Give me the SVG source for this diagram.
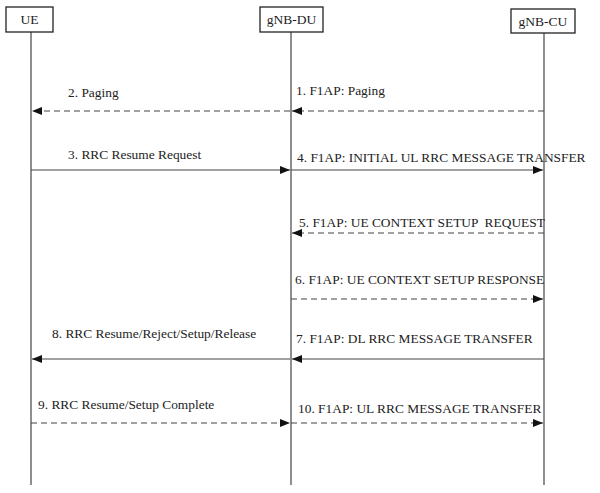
<svg xmlns="http://www.w3.org/2000/svg" width="600" height="493" viewBox="0 0 600 493">
<defs>
<marker id="ah" viewBox="0 0 10 8" refX="10" refY="4" markerWidth="10" markerHeight="8" markerUnits="userSpaceOnUse" orient="auto-start-reverse">
<path d="M0,0 L10,4 L0,8 z" fill="#111"/>
</marker>
<style>
.box{fill:#fff;stroke:#222;stroke-width:1.3}
.life{stroke:#444;stroke-width:1.2}
.t{font-family:"Liberation Serif","Times New Roman",serif;font-size:13.4px;fill:#222}
.bt{font-family:"Liberation Serif","Times New Roman",serif;font-size:13.5px;fill:#222;text-anchor:middle}
.s{stroke:#444;stroke-width:1.2;fill:none;marker-end:url(#ah)}
.d{stroke:#444;stroke-width:1.2;fill:none;stroke-dasharray:6 4;marker-end:url(#ah)}
</style>
</defs>
<rect width="600" height="493" fill="#fff"/>
<g id="lifelines">
<line class="life" x1="31" y1="32" x2="31" y2="485"/>
<line class="life" x1="291" y1="32" x2="291" y2="485"/>
<line class="life" x1="544" y1="33" x2="544" y2="485"/>
</g>
<g id="UE"><rect class="box" x="6" y="7" width="47" height="25"/><text class="bt" x="29.5" y="24">UE</text></g>
<g id="gNB-DU"><rect class="box" x="260" y="7" width="63" height="25"/><text class="bt" x="291.5" y="24">gNB-DU</text></g>
<g id="gNB-CU"><rect class="box" x="511" y="9" width="64" height="24"/><text class="bt" x="543" y="25.5">gNB-CU</text></g>
<g id="connectors">
<line class="d" x1="544" y1="111" x2="292" y2="111"/>
<line class="d" x1="290" y1="111" x2="32" y2="111"/>
<line class="s" x1="31" y1="170" x2="290" y2="170"/>
<line class="s" x1="291" y1="170" x2="543" y2="170"/>
<line class="d" x1="544" y1="233" x2="292" y2="233"/>
<line class="d" x1="291" y1="299" x2="543" y2="299"/>
<line class="s" x1="544" y1="359" x2="292" y2="359"/>
<line class="s" x1="290" y1="359" x2="32" y2="359"/>
<line class="d" x1="31" y1="423" x2="290" y2="423"/>
<line class="d" x1="291" y1="423" x2="543" y2="423"/>
</g>
<g id="labels">
<text class="t" x="296" y="95">1. F1AP: Paging</text>
<text class="t" x="68" y="97">2. Paging</text>
<text class="t" x="68" y="159">3. RRC Resume Request</text>
<text class="t" x="297" y="162">4. F1AP: INITIAL UL RRC MESSAGE TRANSFER</text>
<text class="t" x="299" y="227" xml:space="preserve">5. F1AP: UE CONTEXT SETUP  REQUEST</text>
<text class="t" x="295" y="284">6. F1AP: UE CONTEXT SETUP RESPONSE</text>
<text class="t" x="296" y="343">7. F1AP: DL RRC MESSAGE TRANSFER</text>
<text class="t" x="52" y="338">8. RRC Resume/Reject/Setup/Release</text>
<text class="t" x="38" y="409">9. RRC Resume/Setup Complete</text>
<text class="t" x="298" y="413">10. F1AP: UL RRC MESSAGE TRANSFER</text>
</g>
</svg>
